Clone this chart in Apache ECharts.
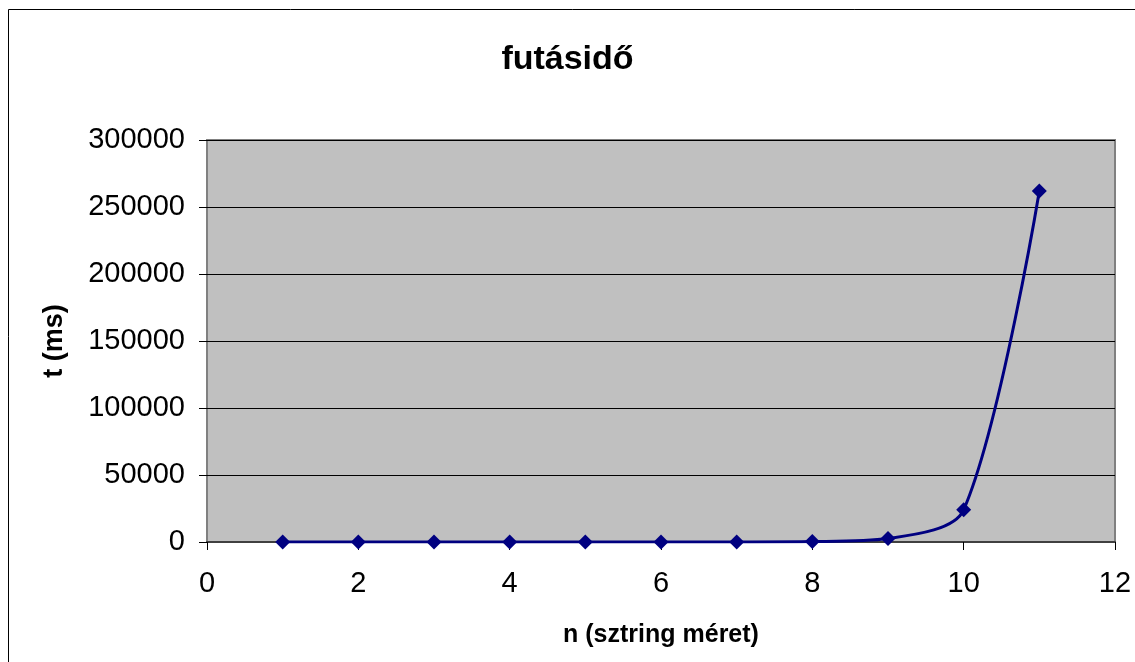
<!DOCTYPE html>
<html>
<head>
<meta charset="utf-8">
<script src="https://cdn.jsdelivr.net/npm/echarts@6/dist/echarts.min.js"></script>
<style>
html,body{margin:0;padding:0;background:#fff;}
#chart{width:1135px;height:662px;}
</style>
</head>
<body>
<div id="chart"></div>
<script>
const xValues = [1, 2, 3, 4, 5, 6, 7, 8, 9, 10, 11];
const tValues = [0, 0, 0, 1, 2, 5, 35, 300, 2600, 24000, 262000];
const titleText = 'futásidő';
const xName = 'n (sztring méret)';
const yName = 't (ms)';

const chart = echarts.init(document.getElementById('chart'));
const font = '"Liberation Sans", Arial, sans-serif';
chart.setOption({
  animation: false,
  backgroundColor: '#ffffff',
  title: {
    text: titleText,
    left: 'center',
    top: 38,
    textStyle: { fontFamily: font, fontWeight: 'bold', fontSize: 34, color: '#000' }
  },
  graphic: [{
    type: 'rect',
    shape: { x: 8.5, y: 9.5, width: 1200, height: 700 },
    style: { fill: 'none', stroke: '#000', lineWidth: 1 },
    silent: true,
    z: -10
  }],
  grid: {
    left: 207, right: 20, top: 140, bottom: 120,
    show: true,
    backgroundColor: '#C0C0C0',
    borderColor: '#808080',
    borderWidth: 2
  },
  xAxis: {
    type: 'value',
    min: 0, max: 12, interval: 2,
    name: xName,
    nameLocation: 'middle',
    nameGap: 81,
    nameTextStyle: { fontFamily: font, fontWeight: 'bold', fontSize: 25, color: '#000' },
    axisLine: { show: true, onZero: false, lineStyle: { color: '#404040', width: 2 } },
    axisTick: { show: true, length: 8, lineStyle: { color: '#000', width: 1 } },
    axisLabel: { fontFamily: font, fontSize: 29, color: '#000', margin: 27 },
    splitLine: { show: false }
  },
  yAxis: {
    type: 'value',
    min: 0, max: 300000, interval: 50000,
    name: yName,
    nameLocation: 'middle',
    nameGap: 139,
    nameRotate: 90,
    nameTextStyle: { fontFamily: font, fontWeight: 'bold', fontSize: 27, color: '#000' },
    axisLine: { show: false },
    axisTick: { show: true, length: 8, lineStyle: { color: '#000', width: 1 } },
    axisLabel: { fontFamily: font, fontSize: 29, color: '#000', margin: 22, formatter: v => String(v) },
    splitLine: { show: true, lineStyle: { color: '#000', width: 1 } }
  },
  series: [{
    type: 'line',
    data: xValues.map((x, i) => [x, tValues[i]]),
    smooth: 0.3,
    symbol: 'diamond',
    symbolSize: 15,
    itemStyle: { color: '#000080' },
    lineStyle: { color: '#000080', width: 3 },
    z: 5
  }]
});
</script>
</body>
</html>
